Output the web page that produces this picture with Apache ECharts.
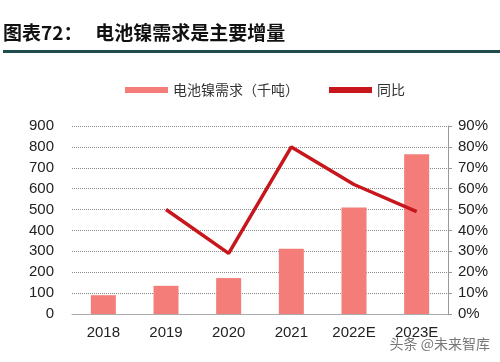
<!DOCTYPE html>
<html><head><meta charset="utf-8">
<script src="https://cdn.jsdelivr.net/npm/echarts@6/dist/echarts.min.js"></script>
<style>html,body{margin:0;padding:0;background:#fff}#c{width:500px;height:362px}</style>
</head><body><div id="c"></div>
<script>
const categories = ['2018','2019','2020','2021','2022E','2023E'];
const demand = [90, 135, 172, 312, 510, 765];
const yoy = [null, 50, 29, 80, 62, 49];
const leftTicks = [0,100,200,300,400,500,600,700,800,900];
const rightTicks = [0,10,20,30,40,50,60,70,80,90];

const chart = echarts.init(document.getElementById('c'));
const font = '"Liberation Sans", Arial, sans-serif';
chart.setOption({
  animation: false,
  graphic: [
    {type:'text', left: 3, top: 23, style:{text:'图表72：   电池镍需求是主要增量', font:'bold 19px "Noto Sans CJK SC"', fill:'#111'}},
    {type:'rect', shape:{x:3, y:50, width:497, height:3}, style:{fill:'#1f4b4c'}},
    {type:'text', right: 10, top: 337, style:{text:'头条 @未来智库', font:'14px "Noto Sans CJK SC"', fill:'#777'}}
  ],
  legend: {
    top: 78, left: 120, itemGap: 30, itemWidth: 43, itemHeight: 6,
    textStyle: {fontFamily: '"Noto Sans CJK SC"', fontSize: 14, color: '#333'},
    data: [
      {name:'电池镍需求（千吨）', icon:'rect'},
      {name:'同比', icon:'rect', itemStyle:{color:'#c8161d'}}
    ]
  },
  grid: {left: 72, right: 52, top: 126, bottom: 48},
  xAxis: {
    type: 'category', data: categories,
    axisLine: {lineStyle: {color: '#aaa'}},
    axisTick: {show: false},
    axisLabel: {fontFamily: font, fontSize: 15, color: '#222', margin: 11}
  },
  yAxis: [
    {type:'value', min:0, max:900, interval:100,
     axisLabel:{fontFamily: font, fontSize:15, color:'#222', margin: 18},
     axisLine:{show:false}, axisTick:{show:false},
     splitLine:{lineStyle:{color:'#888', type:'dotted', width:1}}},
    {type:'value', min:0, max:90, interval:10,
     axisLabel:{fontFamily: font, fontSize:15, color:'#222', formatter:'{value}%', margin: 10},
     axisLine:{show:true, lineStyle:{color:'#999'}},
     axisTick:{show:true, length:4, lineStyle:{color:'#999'}},
     splitLine:{show:false}}
  ],
  series: [
    {name:'电池镍需求（千吨）', type:'bar', data: demand, barWidth: 25,
     itemStyle:{color:'#f47d7a'}},
    {name:'同比', type:'line', yAxisIndex:1, data: yoy, symbol:'none',
     lineStyle:{color:'#c8161d', width:3.5}, itemStyle:{color:'#c8161d'}}
  ]
});
</script></body></html>
